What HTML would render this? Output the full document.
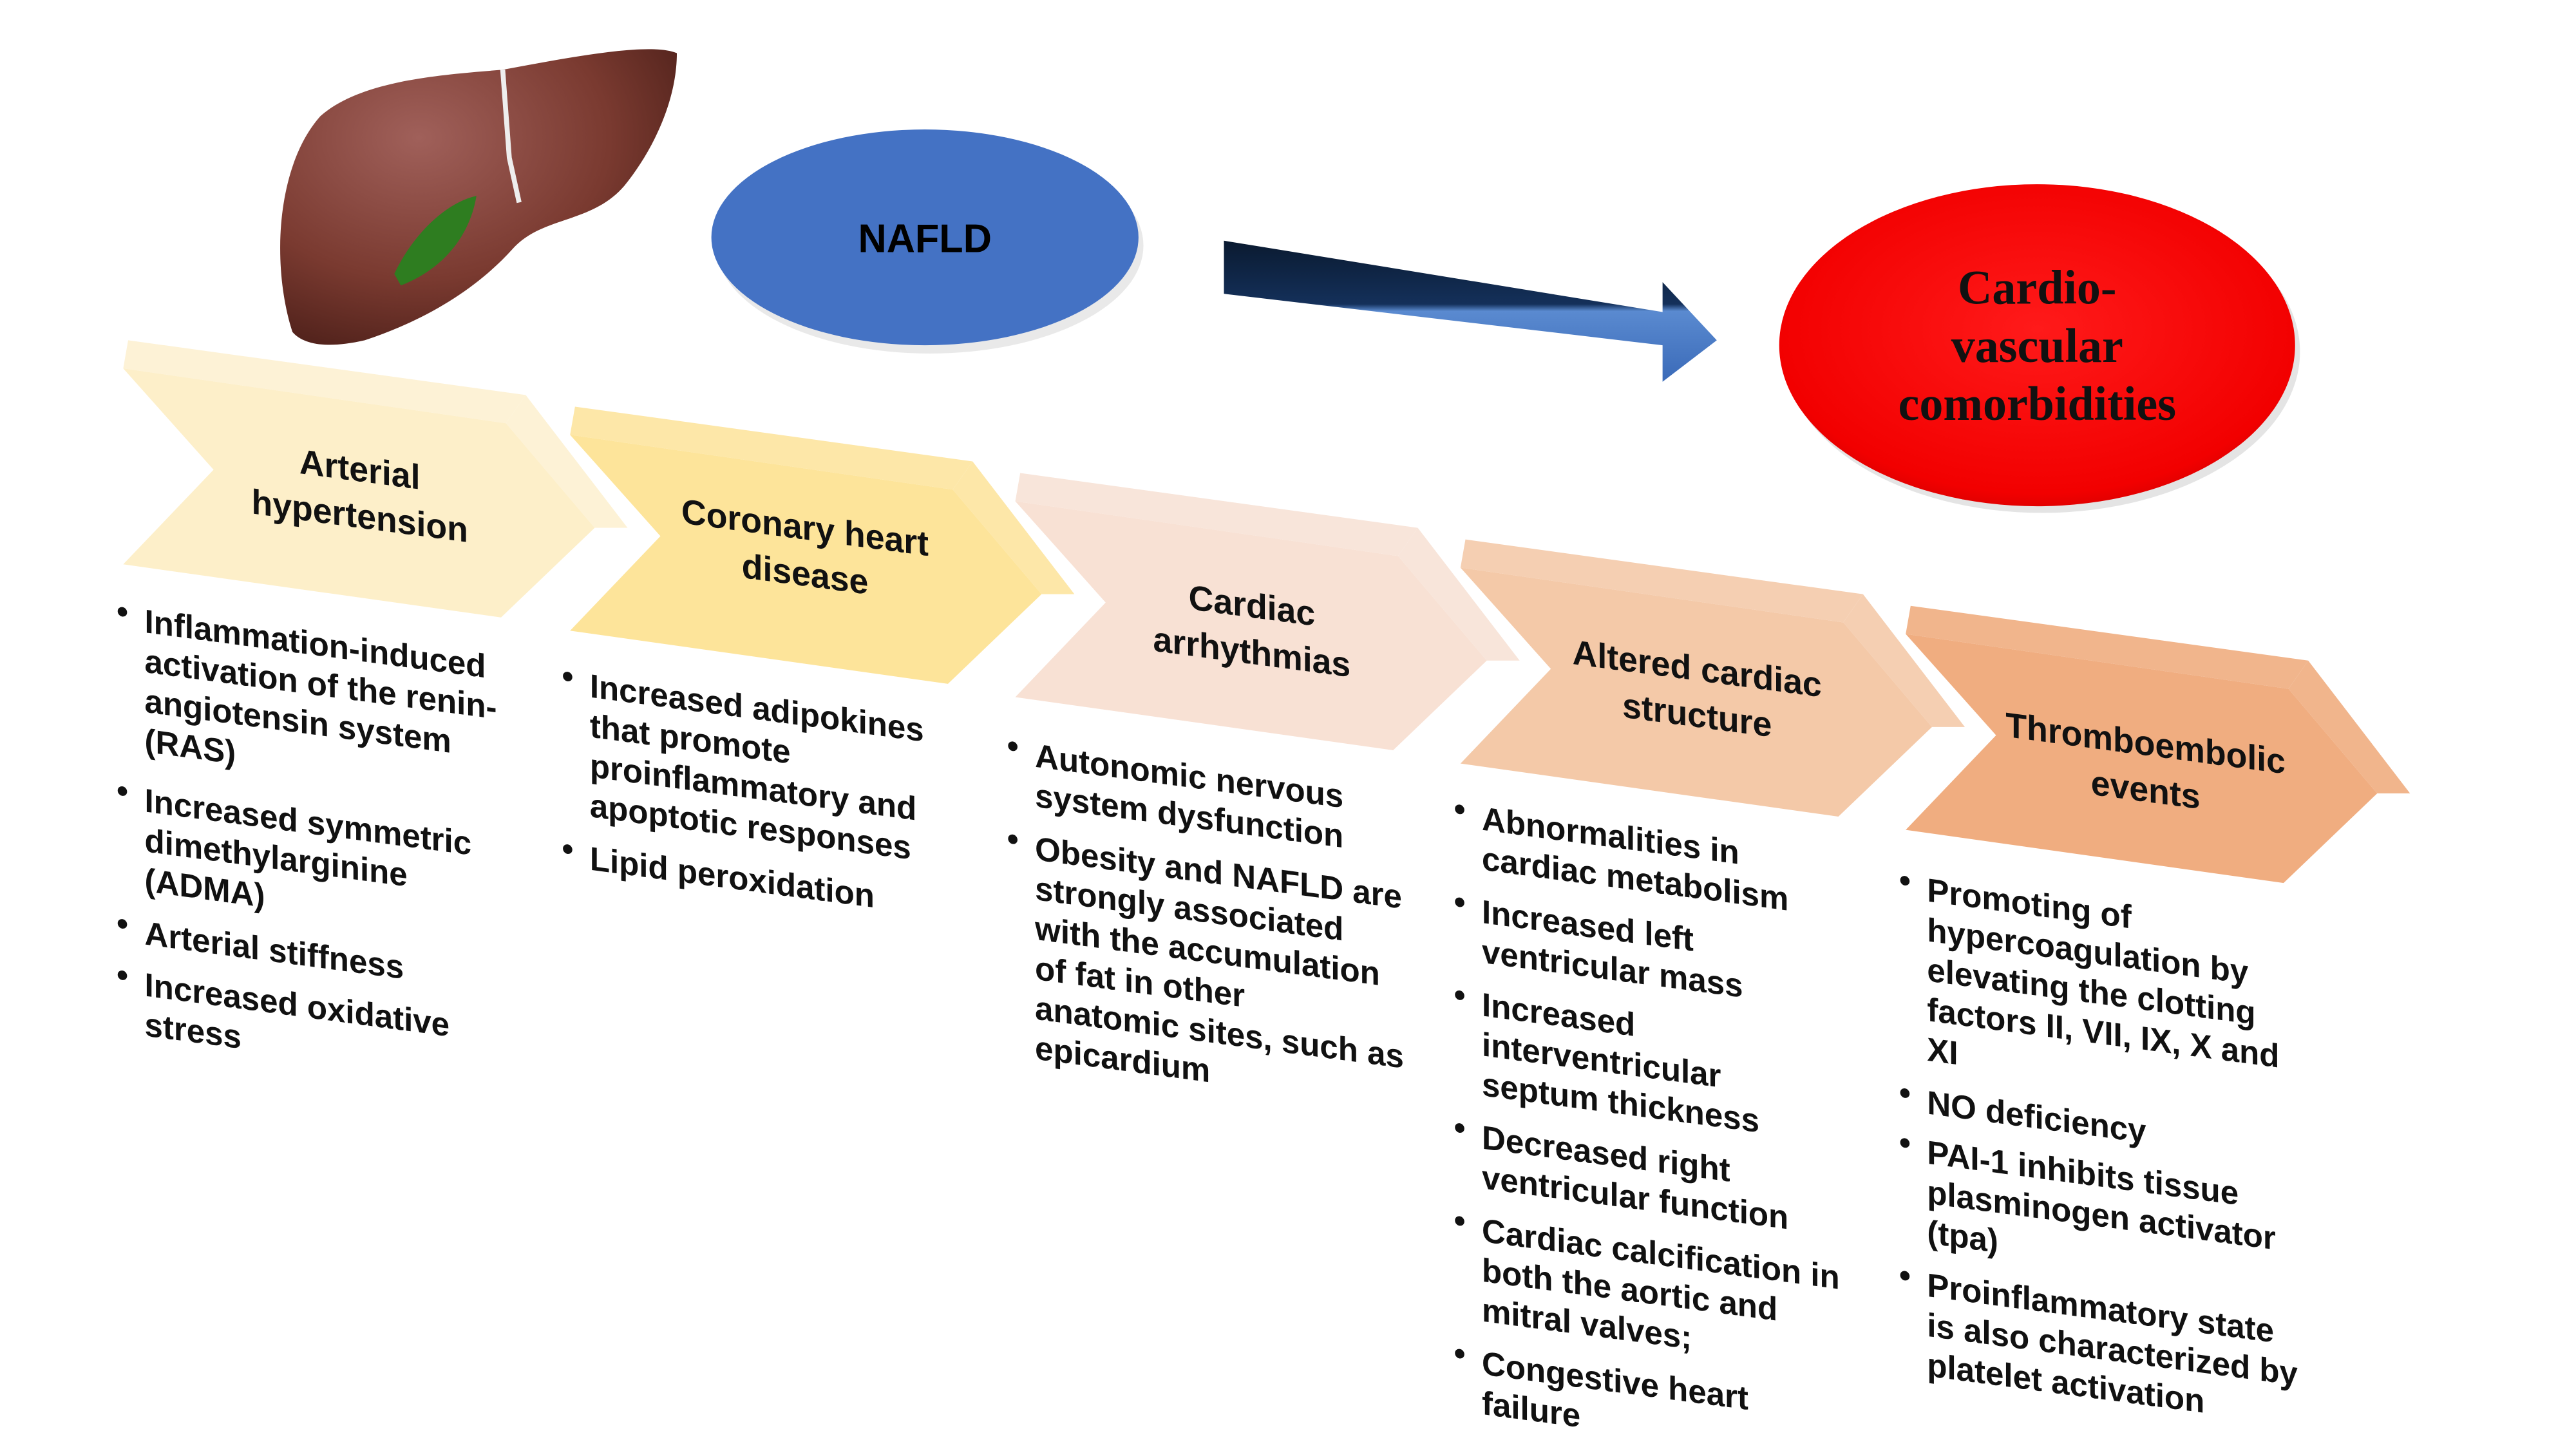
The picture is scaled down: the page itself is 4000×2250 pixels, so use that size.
<!DOCTYPE html>
<html><head><meta charset="utf-8"><style>
html,body{margin:0;padding:0;background:#fff;}
svg{display:block;}
.t{font-family:"Liberation Sans",sans-serif;font-weight:bold;font-size:20px;fill:#111;}
.h{font-family:"Liberation Sans",sans-serif;font-weight:bold;font-size:21px;fill:#111;text-anchor:middle;}
</style></head><body>
<svg width="4000" height="2250" viewBox="0 0 1568 873" preserveAspectRatio="none" xmlns="http://www.w3.org/2000/svg">
<defs>
<radialGradient id="liv" cx="0.35" cy="0.3" r="0.8"><stop offset="0" stop-color="#a0605a"/><stop offset="0.6" stop-color="#7a3a30"/><stop offset="1" stop-color="#4a1e18"/></radialGradient>
<radialGradient id="red" cx="0.5" cy="0.45" r="0.6"><stop offset="0" stop-color="#ff1a1a"/><stop offset="0.85" stop-color="#f20000"/><stop offset="1" stop-color="#d00000"/></radialGradient>
<linearGradient id="arw" x1="0" y1="0" x2="0" y2="1"><stop offset="0" stop-color="#0a1a30"/><stop offset="0.45" stop-color="#14305a"/><stop offset="0.5" stop-color="#5a8ad0"/><stop offset="1" stop-color="#3a6ab8"/></linearGradient>
</defs>
<!-- liver -->
<path d="M178,200 C165,160 168,100 195,70 C220,48 270,45 306,42 C345,35 395,25 412,32 C412,60 398,90 380,112 C360,135 330,130 312,150 C292,172 262,192 222,205 C200,210 185,208 178,200 Z" fill="url(#liv)"/>
<path d="M306,42 L310,95 L316,122" stroke="#eee" stroke-width="3" fill="none"/>
<path d="M240,165 C252,140 272,122 290,118 C286,142 270,162 244,172 Z" fill="#2e7d20"/>
<!-- NAFLD -->
<ellipse cx="566" cy="148" rx="130" ry="65" fill="#c8c8c8" opacity="0.4"/>
<ellipse cx="563" cy="143" rx="130" ry="65" fill="#4472c4"/>
<text x="563" y="152" font-family="Liberation Sans,sans-serif" font-weight="bold" font-size="24" text-anchor="middle" fill="#000">NAFLD</text>
<!-- arrow -->
<polygon points="745,145 1012,188 1012,170 1045,205 1012,230 1012,208 745,177" fill="url(#arw)"/>
<!-- red -->
<ellipse cx="1243" cy="212" rx="157" ry="97" fill="#bbb" opacity="0.4"/>
<ellipse cx="1240" cy="208" rx="157" ry="97" fill="url(#red)"/>
<g font-family="Liberation Serif,serif" font-weight="bold" font-size="29" text-anchor="middle" fill="#111">
<text x="1240" y="183">Cardio-</text><text x="1240" y="218">vascular</text><text x="1240" y="253">comorbidities</text></g>
<!-- chevrons -->
<g>
<polygon points="78,205 320,238 308,255 75,222" fill="#fdf2d6"/>
<polygon points="320,238 382,318 362,318 308,255" fill="#fdf2d6"/>
<polygon points="75,222 308,255 362,318 305,372 75,340 130,283" fill="#fdefc9"/>
</g>
<g transform="translate(272,40)">
<polygon points="78,205 320,238 308,255 75,222" fill="#fde7a8"/>
<polygon points="320,238 382,318 362,318 308,255" fill="#fde7a8"/>
<polygon points="75,222 308,255 362,318 305,372 75,340 130,283" fill="#fde49a"/>
</g>
<g transform="translate(543,80)">
<polygon points="78,205 320,238 308,255 75,222" fill="#f8e5da"/>
<polygon points="320,238 382,318 362,318 308,255" fill="#f8e5da"/>
<polygon points="75,222 308,255 362,318 305,372 75,340 130,283" fill="#f8e1d4"/>
</g>
<g transform="translate(814,120)">
<polygon points="78,205 320,238 308,255 75,222" fill="#f5cfb2"/>
<polygon points="320,238 382,318 362,318 308,255" fill="#f5cfb2"/>
<polygon points="75,222 308,255 362,318 305,372 75,340 130,283" fill="#f4c9a8"/>
</g>
<g transform="translate(1085,160)">
<polygon points="78,205 320,238 308,255 75,222" fill="#f1b58c"/>
<polygon points="320,238 382,318 362,318 308,255" fill="#f1b58c"/>
<polygon points="75,222 308,255 362,318 305,372 75,340 130,283" fill="#f0ad80"/>
</g>
<!-- titles -->
<g transform="translate(219,290) skewY(7.5)"><text class="h" y="0">Arterial</text><text class="h" y="28">hypertension</text></g>
<g transform="translate(490,325) skewY(7.5)"><text class="h" y="0">Coronary heart</text><text class="h" y="28">disease</text></g>
<g transform="translate(762,372) skewY(7.5)"><text class="h" y="0">Cardiac</text><text class="h" y="28">arrhythmias</text></g>
<g transform="translate(1033,410) skewY(7.5)"><text class="h" y="0">Altered cardiac</text><text class="h" y="28">structure</text></g>
<g transform="translate(1306,455) skewY(7.5)"><text class="h" y="0">Thromboembolic</text><text class="h" y="28">events</text></g>
<!-- lists -->
<g class="t" transform="translate(88,381) skewY(7.5)">
<text x="-17" y="-4">•</text><text y="0">Inflammation-induced</text><text y="24">activation of the renin-</text><text y="48">angiotensin system</text><text y="72">(RAS)</text>
<text x="-17" y="104">•</text><text y="108">Increased symmetric</text><text y="132">dimethylarginine</text><text y="156">(ADMA)</text>
<text x="-17" y="184">•</text><text y="188">Arterial stiffness</text>
<text x="-17" y="215">•</text><text y="219">Increased oxidative</text><text y="243">stress</text>
</g>
<g class="t" transform="translate(359,420) skewY(7.5)">
<text x="-17" y="-4">•</text><text y="0">Increased adipokines</text><text y="24">that promote</text><text y="48">proinflammatory and</text><text y="72">apoptotic responses</text>
<text x="-17" y="100">•</text><text y="104">Lipid peroxidation</text>
</g>
<g class="t" transform="translate(630,462) skewY(7.5)">
<text x="-17" y="-4">•</text><text y="0">Autonomic nervous</text><text y="24">system dysfunction</text>
<text x="-17" y="52">•</text><text y="56">Obesity and NAFLD are</text><text y="80">strongly associated</text><text y="104">with the accumulation</text><text y="128">of fat in other</text><text y="152">anatomic sites, such as</text><text y="176">epicardium</text>
</g>
<g class="t" transform="translate(902,500) skewY(7.5)">
<text x="-17" y="-4">•</text><text y="0">Abnormalities in</text><text y="24">cardiac metabolism</text>
<text x="-17" y="52">•</text><text y="56">Increased left</text><text y="80">ventricular mass</text>
<text x="-17" y="108">•</text><text y="112">Increased</text><text y="136">interventricular</text><text y="160">septum thickness</text>
<text x="-17" y="188">•</text><text y="192">Decreased right</text><text y="216">ventricular function</text>
<text x="-17" y="244">•</text><text y="248">Cardiac calcification in</text><text y="272">both the aortic and</text><text y="296">mitral valves;</text>
<text x="-17" y="324">•</text><text y="328">Congestive heart</text><text y="352">failure</text>
</g>
<g class="t" transform="translate(1173,543) skewY(7.5)">
<text x="-17" y="-4">•</text><text y="0">Promoting of</text><text y="24">hypercoagulation by</text><text y="48">elevating the clotting</text><text y="72">factors II, VII, IX, X and</text><text y="96">XI</text>
<text x="-17" y="124">•</text><text y="128">NO deficiency</text>
<text x="-17" y="154">•</text><text y="158">PAI-1 inhibits tissue</text><text y="182">plasminogen activator</text><text y="206">(tpa)</text>
<text x="-17" y="234">•</text><text y="238">Proinflammatory state</text><text y="262">is also characterized by</text><text y="286">platelet activation</text>
</g>
</svg>
</body></html>
